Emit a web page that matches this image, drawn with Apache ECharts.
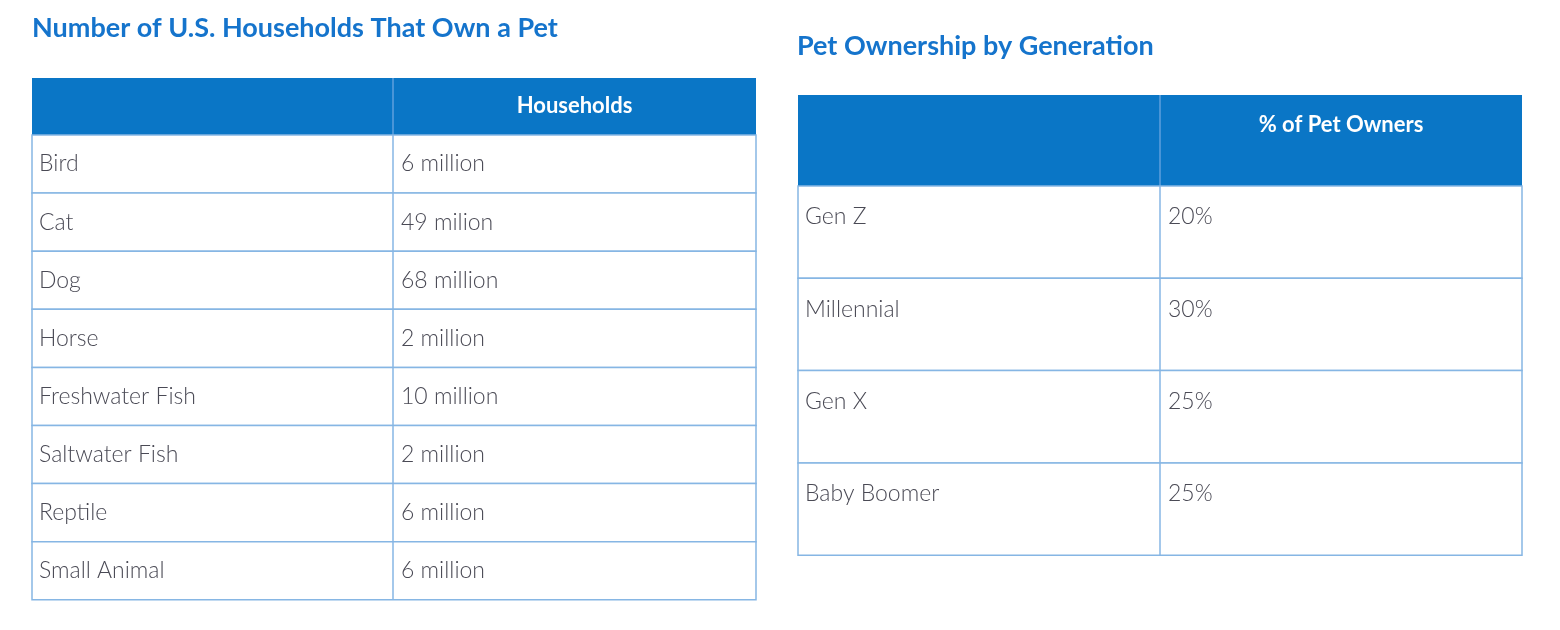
<!DOCTYPE html>
<html><head><meta charset="utf-8">
<script src="https://cdn.jsdelivr.net/npm/echarts@6/dist/echarts.min.js"></script>
<style>html,body{margin:0;background:#fff}#c{width:1560px;height:630px}</style>
</head><body><div id="c"></div>
<script>
const title1 = "Number of U.S. Households That Own a Pet";
const header1 = ["", "Households"];
const pets = ["Bird","Cat","Dog","Horse","Freshwater Fish","Saltwater Fish","Reptile","Small Animal"];
const households = ["6 million","49 milion","68 million","2 million","10 million","2 million","6 million","6 million"];
const title2 = "Pet Ownership by Generation";
const header2 = ["", "% of Pet Owners"];
const generations = ["Gen Z","Millennial","Gen X","Baby Boomer"];
const shares = ["20%","30%","25%","25%"];

const BLUE = "#0a76c6", TITLE = "#1574cc", BORDER = "#86b6e4", TXT = "#4a4a55";
const FONT = "Lato, 'Open Sans', sans-serif";

function table(x, y, w, split, headH, rowH, hdr, colA, colB, topAlign, hdrY) {
  const els = [];
  els.push({type:'rect', shape:{x, y, width:w, height:headH}, style:{fill:BLUE}});
  els.push({type:'line', shape:{x1:x+split, y1:y, x2:x+split, y2:y+headH}, style:{stroke:'#5fa0dc', lineWidth:1.5}});
  els.push({type:'text', x: x+split+(w-split)/2, y: y+hdrY, style:{text:hdr[1], fill:'#fff', font:'bold 22px '+FONT, align:'center', verticalAlign:'middle'}});
  colA.forEach((a,i)=>{
    const ry = y+headH+i*rowH;
    els.push({type:'rect', shape:{x, y:ry, width:w, height:rowH}, style:{fill:'#fff', stroke:BORDER, lineWidth:1.5}});
    els.push({type:'line', shape:{x1:x+split, y1:ry, x2:x+split, y2:ry+rowH}, style:{stroke:BORDER, lineWidth:1.5}});
    const ty = topAlign ? ry+31 : ry+rowH/2;
    els.push({type:'text', x:x+7, y:ty, style:{text:a, fill:TXT, font:'300 23px '+FONT, verticalAlign:'middle'}});
    els.push({type:'text', x:x+split+8, y:ty, style:{text:colB[i], fill:TXT, font:'300 23px '+FONT, verticalAlign:'middle'}});
  });
  return els;
}

const chart = echarts.init(document.getElementById('c'));
chart.setOption({
  animation:false,
  backgroundColor:'#fff',
  graphic:[
    {type:'text', x:32, y:28, style:{text:title1, fill:TITLE, font:'bold 27px '+FONT, verticalAlign:'middle'}},
    {type:'text', x:797, y:46, style:{text:title2, fill:TITLE, font:'bold 27px '+FONT, verticalAlign:'middle'}},
    ...table(32, 78, 724, 361, 57, 58.1, header1, pets, households, false, 28),
    ...table(798, 95, 724, 362, 91, 92.3, header2, generations, shares, true, 30)
  ]
});
</script></body></html>
